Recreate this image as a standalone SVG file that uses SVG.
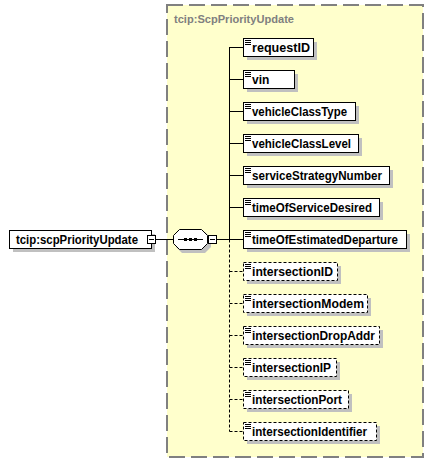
<svg xmlns="http://www.w3.org/2000/svg" width="434" height="463" viewBox="0 0 434 463">
<style>
text{font-family:"Liberation Sans",Arial,sans-serif;font-weight:bold;font-size:12px;fill:#000}
.title{fill:#808080;font-size:11px}
.box{fill:#fff;stroke:#000;stroke-width:1}
.dbox{fill:#fff;stroke:#000;stroke-width:1;stroke-dasharray:3,2}
.sh{fill:#c0c0c0}
.ln{stroke:#000;stroke-width:1;fill:none}
.dl{stroke:#000;stroke-width:1;fill:none;stroke-dasharray:3,2}
.ic{stroke:#000;stroke-width:1}
</style>
<defs>
<g id="icon"><line class="ic" x1="0" y1="0.5" x2="6" y2="0.5"/><line class="ic" x1="0" y1="2.5" x2="6" y2="2.5"/><line class="ic" x1="0" y1="4.5" x2="6" y2="4.5"/></g>
</defs>
<g id="group-bg">
<rect x="167" y="5" width="256" height="452" fill="#ffffcc" stroke="#808080" stroke-width="2" stroke-dasharray="16,6"/>
<text class="title" x="174" y="23" textLength="120" lengthAdjust="spacingAndGlyphs">tcip:ScpPriorityUpdate</text>
</g>
<g id="connectors">
<line class="ln" x1="156" y1="239.5" x2="173" y2="239.5"/>
<line class="ln" x1="217" y1="239.5" x2="243" y2="239.5"/>
<line class="ln" x1="229.5" y1="47" x2="229.5" y2="239.5"/>
<line class="dl" x1="229.5" y1="239.5" x2="229.5" y2="431.5"/>
<line class="ln" x1="229.5" y1="47.5" x2="243" y2="47.5"/>
<line class="ln" x1="229.5" y1="79.5" x2="243" y2="79.5"/>
<line class="ln" x1="229.5" y1="111.5" x2="243" y2="111.5"/>
<line class="ln" x1="229.5" y1="143.5" x2="243" y2="143.5"/>
<line class="ln" x1="229.5" y1="175.5" x2="243" y2="175.5"/>
<line class="ln" x1="229.5" y1="207.5" x2="243" y2="207.5"/>
<line class="dl" x1="229.5" y1="271.5" x2="243" y2="271.5"/>
<line class="dl" x1="229.5" y1="303.5" x2="243" y2="303.5"/>
<line class="dl" x1="229.5" y1="335.5" x2="243" y2="335.5"/>
<line class="dl" x1="229.5" y1="367.5" x2="243" y2="367.5"/>
<line class="dl" x1="229.5" y1="399.5" x2="243" y2="399.5"/>
<line class="dl" x1="229.5" y1="431.5" x2="243" y2="431.5"/>
</g>
<g id="root">
<rect class="sh" x="13" y="234" width="142" height="18"/>
<rect class="box" x="9.5" y="230.5" width="142" height="18"/>
<text x="16" y="244" textLength="122" lengthAdjust="spacingAndGlyphs">tcip:scpPriorityUpdate</text>
<rect class="box" x="147.5" y="235.5" width="8" height="8"/>
<line class="ln" x1="149" y1="239.5" x2="154" y2="239.5"/>
</g>
<g id="sequence">
<polygon class="sh" points="182,232 205,232 211,238 211,247 205,253 182,253 176,247 176,238"/>
<polygon points="179.5,229.5 201.5,229.5 207.5,235.5 207.5,243.5 201.5,249.5 179.5,249.5 173.5,243.5 173.5,235.5" fill="#fff" stroke="#000"/>
<line class="ln" x1="178" y1="239.5" x2="203" y2="239.5"/>
<rect x="184" y="238" width="3" height="3"/>
<rect x="189" y="238" width="3" height="3"/>
<rect x="194" y="238" width="3" height="3"/>
<rect class="box" x="208.5" y="235.5" width="8" height="8"/>
<line class="ln" x1="210" y1="239.5" x2="215" y2="239.5"/>
</g>
<g id="requestID"><rect class="sh" x="247" y="42" width="70" height="18"/><rect class="box" x="243.5" y="38.5" width="70" height="18"/><use href="#icon" x="245" y="40"/><text x="252" y="52" textLength="58" lengthAdjust="spacingAndGlyphs">requestID</text></g>
<g id="vin"><rect class="sh" x="247" y="74" width="51" height="18"/><rect class="box" x="243.5" y="70.5" width="51" height="18"/><use href="#icon" x="245" y="72"/><text x="252" y="84">vin</text></g>
<g id="vehicleClassType"><rect class="sh" x="247" y="106" width="112" height="18"/><rect class="box" x="243.5" y="102.5" width="112" height="18"/><use href="#icon" x="245" y="104"/><text x="252" y="116" textLength="95" lengthAdjust="spacingAndGlyphs">vehicleClassType</text></g>
<g id="vehicleClassLevel"><rect class="sh" x="247" y="138" width="115" height="18"/><rect class="box" x="243.5" y="134.5" width="115" height="18"/><use href="#icon" x="245" y="136"/><text x="252" y="148" textLength="99" lengthAdjust="spacingAndGlyphs">vehicleClassLevel</text></g>
<g id="serviceStrategyNumber"><rect class="sh" x="247" y="170" width="146" height="18"/><rect class="box" x="243.5" y="166.5" width="146" height="18"/><use href="#icon" x="245" y="168"/><text x="252" y="180" textLength="130" lengthAdjust="spacingAndGlyphs">serviceStrategyNumber</text></g>
<g id="timeOfServiceDesired"><rect class="sh" x="247" y="202" width="136" height="18"/><rect class="box" x="243.5" y="198.5" width="136" height="18"/><use href="#icon" x="245" y="200"/><text x="252" y="212" textLength="120" lengthAdjust="spacingAndGlyphs">timeOfServiceDesired</text></g>
<g id="timeOfEstimatedDeparture"><rect class="sh" x="247" y="234" width="163" height="18"/><rect class="box" x="243.5" y="230.5" width="163" height="18"/><use href="#icon" x="245" y="232"/><text x="252" y="244" textLength="146" lengthAdjust="spacingAndGlyphs">timeOfEstimatedDeparture</text></g>
<g id="intersectionID"><rect class="sh" x="247" y="266" width="94" height="18"/><rect class="dbox" x="243.5" y="262.5" width="94" height="18"/><use href="#icon" x="245" y="264"/><text x="252" y="276" textLength="81" lengthAdjust="spacingAndGlyphs">intersectionID</text></g>
<g id="intersectionModem"><rect class="sh" x="247" y="298" width="124" height="18"/><rect class="dbox" x="243.5" y="294.5" width="124" height="18"/><use href="#icon" x="245" y="296"/><text x="252" y="308" textLength="112" lengthAdjust="spacingAndGlyphs">intersectionModem</text></g>
<g id="intersectionDropAddr"><rect class="sh" x="247" y="330" width="136" height="18"/><rect class="dbox" x="243.5" y="326.5" width="136" height="18"/><use href="#icon" x="245" y="328"/><text x="252" y="340" textLength="123" lengthAdjust="spacingAndGlyphs">intersectionDropAddr</text></g>
<g id="intersectionIP"><rect class="sh" x="247" y="362" width="93" height="18"/><rect class="dbox" x="243.5" y="358.5" width="93" height="18"/><use href="#icon" x="245" y="360"/><text x="252" y="372" textLength="79" lengthAdjust="spacingAndGlyphs">intersectionIP</text></g>
<g id="intersectionPort"><rect class="sh" x="247" y="394" width="105" height="18"/><rect class="dbox" x="243.5" y="390.5" width="105" height="18"/><use href="#icon" x="245" y="392"/><text x="252" y="404" textLength="90" lengthAdjust="spacingAndGlyphs">intersectionPort</text></g>
<g id="intersectionIdentifier"><rect class="sh" x="247" y="426" width="133" height="18"/><rect class="dbox" x="243.5" y="422.5" width="133" height="18"/><use href="#icon" x="245" y="424"/><text x="252" y="436" textLength="115" lengthAdjust="spacingAndGlyphs">intersectionIdentifier</text></g>
</svg>
